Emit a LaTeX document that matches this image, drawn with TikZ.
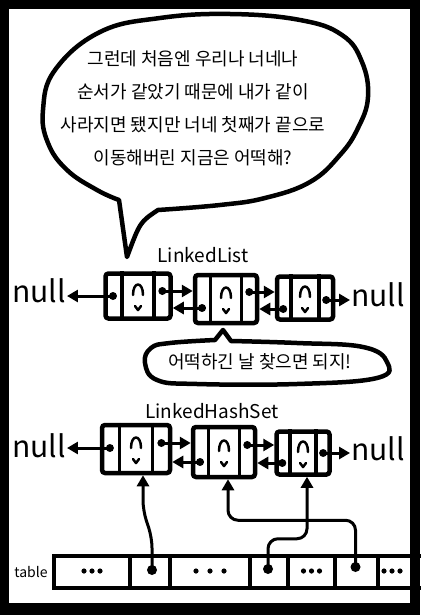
\documentclass[tikz,border=0pt]{standalone}
\usepackage{fontspec}
\setmainfont{Noto Sans CJK KR}
\usetikzlibrary{arrows.meta,calc}

% one list entry: name, x, y, width, height, shift of prev dot, shift of next dot
\newcommand{\listentry}[7]{%
  \node[entrybox, minimum width=#4, minimum height=#5] (#1) at (#2,#3) {};
  \draw[divider] ($(#1.north west)!.27!(#1.north east)$) -- ($(#1.south west)!.27!(#1.south east)$);
  \draw[divider] ($(#1.north west)!.73!(#1.north east)$) -- ($(#1.south west)!.73!(#1.south east)$);
  \draw[scribble] ($(#1.center)+(-5,-1)$) .. controls ($(#1.center)+(-5,-15)$) and ($(#1.center)+(5,-15)$) .. ($(#1.center)+(5,-1)$);
  \draw[scribble] ($(#1.center)+(-3,10)$) -- ($(#1.center)+(0,14)$) -- ($(#1.center)+(3,10)$);
  \node[ptr] (#1-prev) at ($(#1.west)!.14!(#1.east)+(0,#6)$) {};
  \node[ptr] (#1-next) at ($(#1.west)!.85!(#1.east)+(0,#7)$) {};
}

\begin{document}
\begin{tikzpicture}[x=1pt, y=-1pt,
    bubble/.style={line width=4.5pt, line join=round},
    entrybox/.style={draw, line width=4.5pt, rounded corners=3pt, inner sep=0pt},
    divider/.style={line width=3.5pt},
    scribble/.style={line width=2.5pt, line cap=round, line join=round},
    ptr/.style={circle, fill, inner sep=0pt, minimum size=8pt},
    linkarrow/.style={line width=3pt, -{Triangle[length=11pt,width=12pt]}},
    nulltext/.style={font=\fontsize{30}{30}\selectfont, inner sep=1pt},
    caption/.style={font=\fontsize{19}{19}\selectfont},
    tablecell/.style={draw, line width=4pt, minimum height=32pt, inner sep=0pt},
    saytext/.style={align=center, font=\fontsize{18}{33}\selectfont}]
    \useasboundingbox (0,0) rectangle (420,615);
    % frame
    \fill[black] (0,0) rectangle (420,615);
    \fill[white] (9,9) rectangle (410,603);

    % big speech bubble
    \draw[bubble] (127,257) -- plot[smooth, tension=0.7] coordinates {(119,200) (97,190) (67,170) (48,143) (43,110) (55,70) (100,32) (160,18) (230,14) (300,20) (342,35) (362,62) (368,97) (358,128) (340,155) (310,182) (265,198) (220,205) (158,210)} .. controls (140,222) .. (127,257) -- cycle;
    \node[saytext] (question) at (193,108) {그런데 처음엔 우리나 너네나\\순서가 같았기 때문에 내가 같이\\사라지면 됐지만 너네 첫째가 끝으로\\이동해버린 지금은 어떡해?};

    % LinkedList
    \node[caption] (lltitle) at (203,255) {LinkedList};
    \listentry{ll1}{138}{296}{65}{45}{0}{-5}
    \listentry{ll2}{226}{299}{62}{48}{9}{-7}
    \listentry{ll3}{305}{298}{56}{43}{11}{2}
    \node[nulltext] (ll-lnull) at (39,291) {null};
    \node[nulltext] (ll-rnull) at (378,295) {null};
    \draw[linkarrow] (ll1-prev.center) -- (ll1-prev -| ll-lnull.east);
    \draw[linkarrow] (ll1-next.center) -- (ll1-next -| ll2.west);
    \draw[linkarrow] (ll2-prev.center) -- (ll2-prev -| ll1.east);
    \draw[linkarrow] (ll2-next.center) -- (ll2-next -| ll3.west);
    \draw[linkarrow] (ll3-prev.center) -- (ll3-prev -| ll2.east);
    \draw[linkarrow] (ll3-next.center) -- (ll3-next -| ll-rnull.west);

    % small speech bubble
    \draw[bubble] (223,330) -- plot[smooth, tension=0.7] coordinates {(231,341) (297,343) (363,347) (387,362) (377,378) (297,384) (197,384) (157,380) (145,363) (151,348) (170,343) (215,340)} -- cycle;
    \node[saytext] (reply) at (260,362) {어떡하긴 날 찾으면 되지!};

    % LinkedHashSet
    \node[caption] (hstitle) at (212,411) {LinkedHashSet};
    \listentry{hs1}{136}{449}{68}{48}{-1}{-6}
    \listentry{hs2}{224}{452}{62}{50}{10}{-7}
    \listentry{hs3}{303}{453}{53}{43}{10}{0}
    \node[nulltext] (hs-lnull) at (39,446) {null};
    \node[nulltext] (hs-rnull) at (378,449) {null};
    \draw[linkarrow] (hs1-prev.center) -- (hs1-prev -| hs-lnull.east);
    \draw[linkarrow] (hs1-next.center) -- (hs1-next -| hs2.west);
    \draw[linkarrow] (hs2-prev.center) -- (hs2-prev -| hs1.east);
    \draw[linkarrow] (hs2-next.center) -- (hs2-next -| hs3.west);
    \draw[linkarrow] (hs3-prev.center) -- (hs3-prev -| hs2.east);
    \draw[linkarrow] (hs3-next.center) -- (hs3-next -| hs-rnull.west);

    % table
    \node[font=\fontsize{14}{14}\selectfont, inner sep=1pt] (tablename) at (31,572) {table};
    \node[tablecell, minimum width=76] (t1) at (92,572) {};
    \node[tablecell, minimum width=40] (t2) at (150,572) {};
    \node[tablecell, minimum width=80] (t3) at (210,572) {};
    \node[tablecell, minimum width=38] (t4) at (269,572) {};
    \node[tablecell, minimum width=47] (t5) at (311.5,572) {};
    \node[tablecell, minimum width=43] (t6) at (356.5,572) {};
    \node[tablecell, minimum width=52] (t7) at (404,572) {};
    \foreach \c in {t1,t5} \foreach \d in {-8,0,8} \fill ($(\c.center)+(\d,-1)$) circle (2.6);
    \foreach \d in {-14,0,14} \fill ($(t3.center)+(\d,-1)$) circle (2.6);
    \foreach \d in {-20,-12,-4} \fill ($(t7.center)+(\d,-1)$) circle (2.6);
    \node[ptr, minimum size=10pt] (t2-ptr) at ($(t2.center)+(2,-2)$) {};
    \node[ptr, minimum size=10pt] (t4-ptr) at ($(t4.center)+(-1,-3)$) {};
    \node[ptr, minimum size=10pt] (t6-ptr) at ($(t6.center)+(-1,-5)$) {};
    \draw[linkarrow, rounded corners=10pt] (t2-ptr.center) -- ++(0,-32) -- ($(hs1.south)+(7,35)$) -- ($(hs1.south)+(7,0)$);
    \draw[linkarrow, rounded corners=10pt] (t4-ptr.center) |- ($(hs3.south)+(4,62)$) -- ($(hs3.south)+(4,0)$);
    \draw[linkarrow, rounded corners=10pt] (t6-ptr.center) |- ($(hs2.south)+(4,41)$) -- ($(hs2.south)+(4,0)$);
\end{tikzpicture}
\end{document}
